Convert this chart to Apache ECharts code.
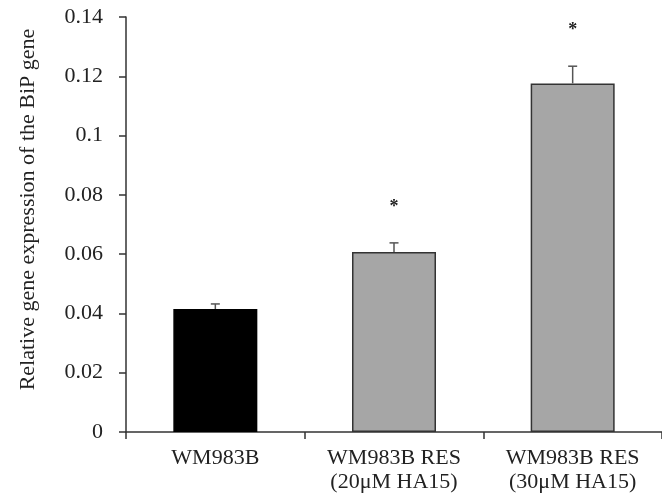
<!DOCTYPE html>
<html>
<head>
<meta charset="utf-8">
<script src="https://cdn.jsdelivr.net/npm/echarts@6/dist/echarts.min.js"></script>
<style>
html,body{margin:0;padding:0;background:#fff;}
#chart{width:662px;height:497px;}
</style>
</head>
<body>
<div id="chart"></div>
<script>
const categories = ['WM983B', 'WM983B RES\n(20\u03bcM HA15)', 'WM983B RES\n(30\u03bcM HA15)'];
const values = [0.0415, 0.0607, 0.1176];
const errors = [0.0017, 0.0031, 0.0058];
const significant = [false, true, true];
const yTicks = [0, 0.02, 0.04, 0.06, 0.08, 0.1, 0.12, 0.14];
const barColors = ['#000000', '#a6a6a6', '#a6a6a6'];

const FONT = "'Liberation Serif', 'DejaVu Serif', serif";
const chart = echarts.init(document.getElementById('chart'), null, {renderer: 'canvas'});

const option = {
  animation: false,
  backgroundColor: '#ffffff',
  grid: {left: 126, top: 17, width: 546, height: 415},
  xAxis: {
    type: 'category',
    data: categories,
    axisLine: {lineStyle: {color: '#333', width: 1.5}},
    axisTick: {show: true, inside: false, length: 7, alignWithLabel: false, lineStyle: {color: '#333', width: 1.5}},
    axisLabel: {color: '#222', fontFamily: FONT, fontSize: 22, margin: 14, lineHeight: 24, interval: 0}
  },
  yAxis: {
    type: 'value',
    min: yTicks[0],
    max: yTicks[yTicks.length - 1],
    interval: 0.02,
    name: 'Relative gene expression of the BiP gene',
    nameLocation: 'middle',
    nameRotate: 90,
    nameGap: 87,
    nameTextStyle: {color: '#222', fontFamily: FONT, fontSize: 22, padding: [0, 0, 0, 30]},
    splitLine: {show: false},
    axisLine: {show: true, lineStyle: {color: '#333', width: 1.5}},
    axisTick: {show: true, inside: false, length: 7, lineStyle: {color: '#333', width: 1.5}},
    axisLabel: {color: '#222', fontFamily: FONT, fontSize: 22, margin: 23,
      formatter: v => String(+v.toFixed(2))}
  },
  series: [
    {
      type: 'bar',
      barWidth: 84,
      data: values.map((v, i) => ({
        value: v,
        itemStyle: {color: barColors[i], borderColor: i === 0 ? '#000' : '#333', borderWidth: 1.5}
      })),
      z: 2
    },
    {
      type: 'custom',
      z: 3,
      data: values.map((v, i) => [i, v, errors[i], significant[i] ? 1 : 0]),
      renderItem: function (params, api) {
        const x = api.value(0);
        const v = api.value(1);
        const e = api.value(2);
        const sig = api.value(3);
        const base = api.coord([x, v]);
        const top = api.coord([x, v + e]);
        const half = 4.5;
        const children = [
          {type: 'line', shape: {x1: top[0], y1: base[1], x2: top[0], y2: top[1]},
            style: {stroke: '#555', lineWidth: 1.5}},
          {type: 'line', shape: {x1: top[0] - half, y1: top[1], x2: top[0] + half, y2: top[1]},
            style: {stroke: '#555', lineWidth: 1.5}}
        ];
        if (sig) {
          children.push({type: 'text', style: {text: '*', x: top[0], y: top[1] - 36,
            align: 'center', verticalAlign: 'middle', font: "bold 18px " + FONT, fill: '#222'}});
        }
        return {type: 'group', children: children};
      }
    }
  ]
};
chart.setOption(option);
</script>
</body>
</html>
